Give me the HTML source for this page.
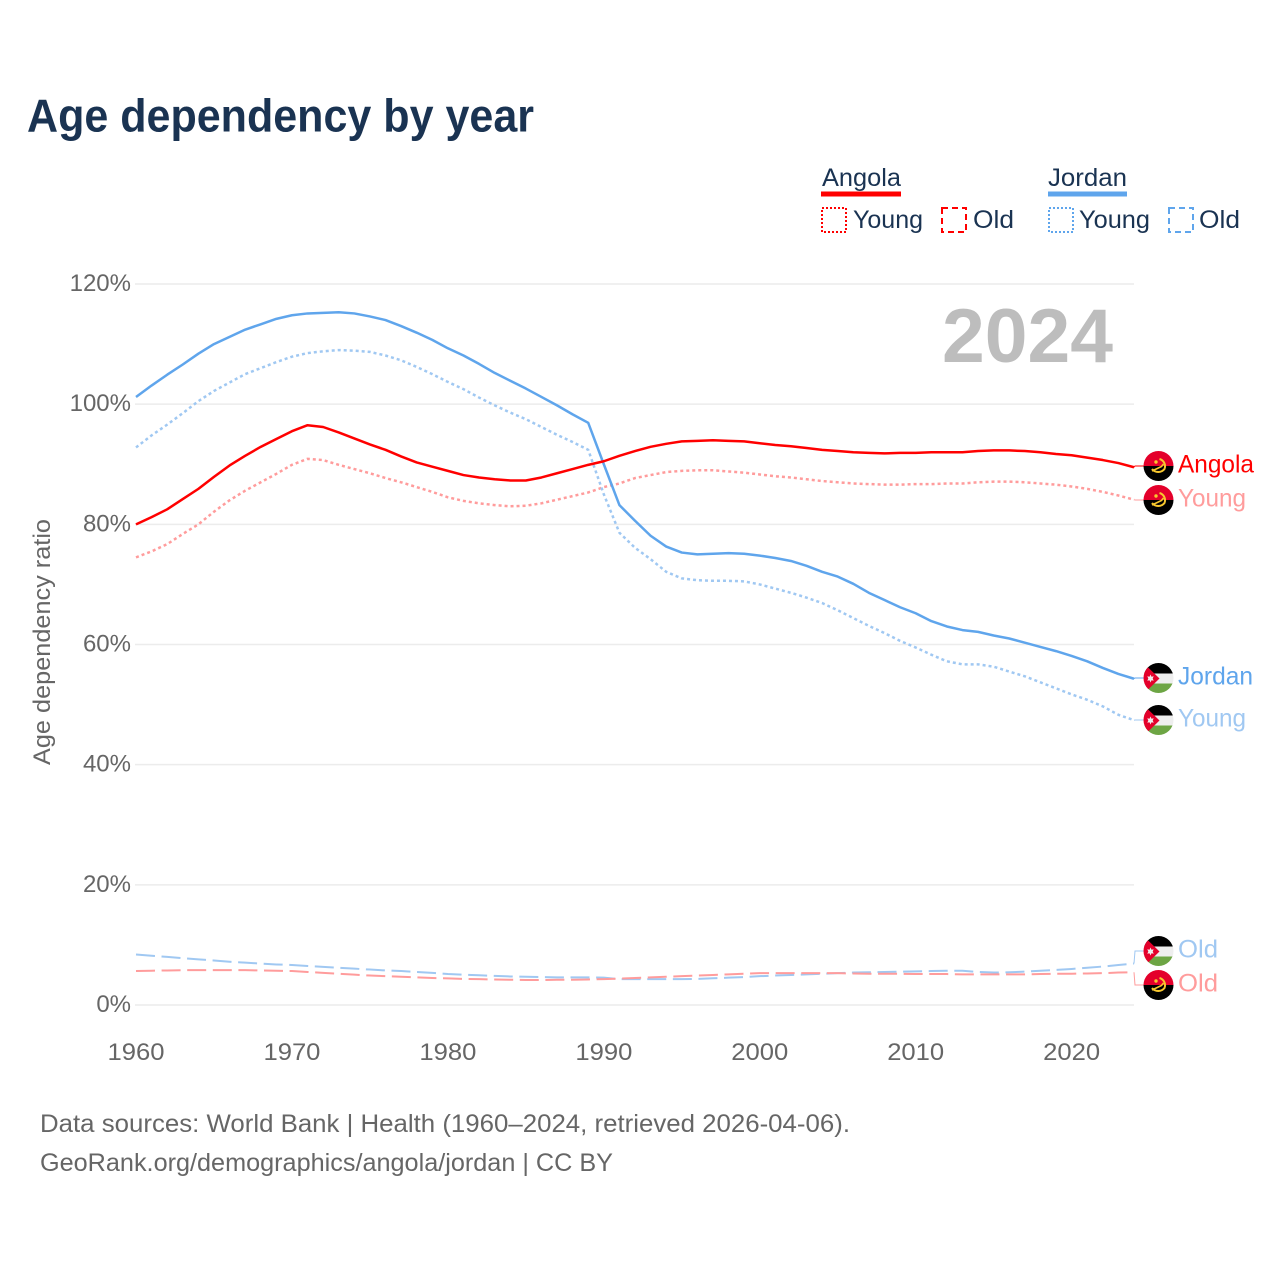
<!DOCTYPE html>
<html lang="en">
<head>
<meta charset="utf-8">
<title>Age dependency by year</title>
<style>
html,body{margin:0;padding:0;background:#fff;width:1280px;height:1280px;overflow:hidden}
svg{display:block}
text{font-family:"Liberation Sans",sans-serif}
</style>
</head>
<body>
<svg id="chart" xmlns="http://www.w3.org/2000/svg" width="1280" height="1280" viewBox="0 0 1280 1280">
  <defs>
    <clipPath id="flag-clip"><circle cx="0" cy="0" r="15"/></clipPath>
    <g id="flag-angola">
      <g clip-path="url(#flag-clip)">
        <rect x="-15" y="-15" width="30" height="15" fill="#e4002b"/>
        <rect x="-15" y="0" width="30" height="15" fill="#000"/>
        <path d="M1,-7 A7.500,7.500 0 0 1 6,3 A8,8 0 0 1 -6.500,3" fill="none" stroke="#f7c72e" stroke-width="2"/>
        <path d="M-6.500,5 L3,0.500 L5,-2" fill="none" stroke="#f7c72e" stroke-width="1.600"/>
        <circle cx="-2.500" cy="-4" r="1.700" fill="#f7c72e"/>
      </g>
    </g>
    <g id="flag-jordan">
      <g clip-path="url(#flag-clip)">
        <rect x="-15" y="-15" width="30" height="10.500" fill="#000"/>
        <rect x="-15" y="-4.500" width="30" height="10" fill="#eee"/>
        <rect x="-15" y="5.500" width="30" height="9.500" fill="#6da544"/>
        <path d="M-15,-15 L1,0.500 L-15,16 Z" fill="#e4002b"/>
        <polygon points="-8,-3.500 -7,-1.200 -4.800,-1.800 -5.800,0.500 -4.800,2.800 -7,2.200 -8,4.500 -9,2.200 -11.200,2.800 -10.200,0.500 -11.200,-1.800 -9,-1.200" fill="#eee"/>
      </g>
    </g>
  </defs>

  <text x="27" y="131.500" font-size="46" font-weight="700" fill="#1a3352" textLength="507" lengthAdjust="spacingAndGlyphs">Age dependency by year</text>

  <g font-size="25" fill="#1a3352">
    <text x="822" y="186" textLength="79" lengthAdjust="spacingAndGlyphs">Angola</text>
    <rect x="821" y="191.500" width="80" height="5" fill="#ff0000"/>
    <rect x="822" y="208" width="24" height="24" fill="none" stroke="#ff0000" stroke-width="2" stroke-dasharray="2 2"/>
    <text x="853" y="228" textLength="70" lengthAdjust="spacingAndGlyphs">Young</text>
    <rect x="942" y="208" width="24" height="24" fill="none" stroke="#ff0000" stroke-width="2" stroke-dasharray="6 4"/>
    <text x="973" y="228" textLength="41" lengthAdjust="spacingAndGlyphs">Old</text>
    <text x="1048" y="186" textLength="79" lengthAdjust="spacingAndGlyphs">Jordan</text>
    <rect x="1048" y="191.500" width="79" height="5" fill="#5fa5ec"/>
    <rect x="1049" y="208" width="24" height="24" fill="none" stroke="#5fa5ec" stroke-width="2" stroke-dasharray="2 2"/>
    <text x="1079" y="228" textLength="71" lengthAdjust="spacingAndGlyphs">Young</text>
    <rect x="1169" y="208" width="24" height="24" fill="none" stroke="#5fa5ec" stroke-width="2" stroke-dasharray="6 4"/>
    <text x="1199" y="228" textLength="41" lengthAdjust="spacingAndGlyphs">Old</text>
  </g>

  <g id="grid"></g>
  <text x="942" y="362" font-size="76" font-weight="700" fill="#bdbdbd" textLength="171" lengthAdjust="spacingAndGlyphs">2024</text>
  <g id="series"></g>
  <g id="end-labels"></g>

  <text transform="translate(50,642) rotate(-90)" text-anchor="middle" font-size="24" fill="#666" textLength="246" lengthAdjust="spacingAndGlyphs">Age dependency ratio</text>

  <text x="40" y="1132" font-size="25" fill="#666" textLength="810" lengthAdjust="spacingAndGlyphs">Data sources: World Bank | Health (1960–2024, retrieved 2026-04-06).</text>
  <text x="40" y="1171" font-size="25" fill="#666" textLength="573" lengthAdjust="spacingAndGlyphs">GeoRank.org/demographics/angola/jordan | CC BY</text>
</svg>

<script>
const startYear = 1960;
const endYear = 2024;
const yTicks = [0, 20, 40, 60, 80, 100, 120];
const xTicks = [1960, 1970, 1980, 1990, 2000, 2010, 2020];

const angolaTotal = [80.0,81.2,82.5,84.2,85.9,87.9,89.8,91.4,92.9,94.2,95.5,96.5,96.2,95.3,94.3,93.3,92.4,91.3,90.3,89.6,88.9,88.2,87.8,87.5,87.3,87.3,87.8,88.5,89.2,89.9,90.5,91.4,92.2,92.9,93.4,93.8,93.9,94.0,93.9,93.8,93.5,93.2,93.0,92.7,92.4,92.2,92.0,91.9,91.8,91.9,91.9,92.0,92.0,92.0,92.2,92.3,92.3,92.2,92.0,91.7,91.5,91.1,90.7,90.2,89.5];
const angolaYoung = [74.5,75.5,76.7,78.4,80.0,82.1,84.0,85.6,87.0,88.4,89.9,90.9,90.7,89.9,89.2,88.5,87.7,87.0,86.2,85.4,84.5,83.9,83.5,83.2,83.0,83.1,83.5,84.1,84.7,85.3,86.2,86.8,87.7,88.2,88.7,88.9,89.0,89.0,88.8,88.6,88.3,88.0,87.8,87.5,87.2,87.0,86.8,86.7,86.6,86.6,86.7,86.7,86.8,86.8,87.0,87.1,87.1,87.0,86.8,86.6,86.3,85.9,85.4,84.8,84.1];
const angolaOld = [5.65,5.7,5.75,5.8,5.8,5.8,5.8,5.8,5.75,5.7,5.65,5.5,5.35,5.2,5.05,4.9,4.8,4.7,4.6,4.5,4.43,4.35,4.3,4.25,4.2,4.16,4.16,4.2,4.2,4.25,4.3,4.4,4.5,4.6,4.7,4.8,4.9,5.0,5.1,5.2,5.3,5.3,5.3,5.3,5.3,5.3,5.25,5.2,5.2,5.2,5.16,5.15,5.15,5.1,5.1,5.1,5.1,5.1,5.15,5.2,5.2,5.25,5.3,5.4,5.45];
const jordanTotal = [101.2,103.1,104.9,106.6,108.4,110.0,111.2,112.4,113.3,114.2,114.8,115.1,115.2,115.3,115.1,114.6,114.0,113.0,111.9,110.7,109.3,108.1,106.7,105.2,103.9,102.6,101.2,99.8,98.3,96.9,90.0,83.2,80.6,78.1,76.3,75.3,75.0,75.1,75.2,75.1,74.8,74.4,73.9,73.1,72.1,71.3,70.1,68.6,67.4,66.2,65.2,63.9,63.0,62.4,62.1,61.5,61.0,60.3,59.6,58.9,58.1,57.2,56.1,55.1,54.3];
const jordanYoung = [92.8,94.8,96.6,98.5,100.5,102.2,103.6,105.0,106.0,107.0,107.9,108.5,108.8,109.0,108.9,108.7,108.1,107.3,106.2,105.0,103.7,102.5,101.1,99.8,98.6,97.5,96.2,94.9,93.7,92.4,85.0,78.6,76.1,74.2,72.1,71.0,70.7,70.6,70.6,70.5,70.0,69.3,68.6,67.8,66.9,65.7,64.4,63.1,61.9,60.6,59.5,58.3,57.2,56.7,56.7,56.3,55.5,54.7,53.7,52.7,51.7,50.8,49.7,48.3,47.4];
const jordanOld = [8.4,8.2,8.0,7.8,7.6,7.4,7.2,7.05,6.9,6.75,6.65,6.5,6.35,6.2,6.05,5.9,5.75,5.65,5.5,5.35,5.16,5.05,4.95,4.85,4.75,4.7,4.65,4.6,4.6,4.6,4.55,4.3,4.3,4.3,4.3,4.3,4.35,4.45,4.55,4.65,4.8,4.9,5.0,5.1,5.2,5.3,5.4,5.45,5.5,5.55,5.6,5.65,5.7,5.7,5.5,5.4,5.45,5.55,5.7,5.85,6.0,6.2,6.4,6.65,6.9];

const plot = { left: 136, right: 1134, zero: 1005, top: 284 };
function xScale(year) { return plot.left + (year - startYear) * (plot.right - plot.left) / (endYear - startYear); }
function yScale(value) { return plot.zero - value * (plot.zero - plot.top) / 120; }

const NS = 'http://www.w3.org/2000/svg';
const gridGroup = document.getElementById('grid');
const seriesGroup = document.getElementById('series');
const labelGroup = document.getElementById('end-labels');

yTicks.forEach(function (tick) {
  const line = document.createElementNS(NS, 'line');
  
  
  line.setAttribute('x1', plot.left - 1);
  line.setAttribute('x2', plot.right);
  line.setAttribute('y1', yScale(tick));
  line.setAttribute('y2', yScale(tick));
  line.setAttribute('stroke', '#ececec');
  line.setAttribute('stroke-width', '1.5');
  gridGroup.appendChild(line);
  const label = document.createElementNS(NS, 'text');
  
  
  label.setAttribute('x', 131);
  label.setAttribute('y', yScale(tick) + 7);
  label.setAttribute('text-anchor', 'end');
  label.setAttribute('font-size', '24');
  label.setAttribute('fill', '#666');
  label.textContent = tick + '%';
  gridGroup.appendChild(label);
});

xTicks.forEach(function (tick) {
  const label = document.createElementNS(NS, 'text');
  
  
  label.setAttribute('x', xScale(tick));
  label.setAttribute('y', 1060);
  label.setAttribute('text-anchor', 'middle');
  label.setAttribute('font-size', '24');
  label.setAttribute('fill', '#666');
  label.setAttribute('textLength', '57');
  label.setAttribute('lengthAdjust', 'spacingAndGlyphs');
  label.textContent = tick;
  gridGroup.appendChild(label);
});

function drawLine(values, name, color, width, dash) {
  const d = values.map(function (v, i) {
    return (i ? 'L' : 'M') + xScale(startYear + i).toFixed(2) + ',' + yScale(v).toFixed(2);
  }).join(' ');
  const path = document.createElementNS(NS, 'path');
  
  
  path.setAttribute('d', d);
  path.setAttribute('fill', 'none');
  path.setAttribute('stroke', color);
  path.setAttribute('stroke-width', width);
  path.setAttribute('stroke-linejoin', 'round');
  if (dash) path.setAttribute('stroke-dasharray', dash);
  seriesGroup.appendChild(path);
}

function drawEnd(values, name, color, text, textWidth, labelY, flag) {
  const endY = yScale(values[values.length - 1]);
  const conn = document.createElementNS(NS, 'path');
  
  
  conn.setAttribute('d', 'M' + plot.right + ',' + endY.toFixed(2) + ' L' + (plot.right + 1) + ',' + labelY + ' L1144,' + labelY);
  conn.setAttribute('fill', 'none');
  conn.setAttribute('stroke', color);
  conn.setAttribute('stroke-width', '1');
  labelGroup.appendChild(conn);
  const use = document.createElementNS(NS, 'use');
  
  
  use.setAttribute('href', '#' + flag);
  use.setAttribute('x', 1158.5);
  use.setAttribute('y', labelY);
  labelGroup.appendChild(use);
  const label = document.createElementNS(NS, 'text');
  
  
  label.setAttribute('x', 1178);
  label.setAttribute('y', labelY + 6.5);
  label.setAttribute('font-size', '25');
  label.setAttribute('fill', color);
  label.setAttribute('textLength', textWidth);
  label.setAttribute('lengthAdjust', 'spacingAndGlyphs');
  label.textContent = text;
  labelGroup.appendChild(label);
}

const RED = '#ff0000', BLUE = '#5fa5ec', RED_L = '#ff9c9c', BLUE_L = '#a0c8f2';
drawLine(jordanOld, 'line-jordan-old', BLUE_L, 2, '19 6.6');
drawLine(angolaOld, 'line-angola-old', RED_L, 2, '19 6.6');
drawLine(angolaYoung, 'line-angola-young', RED_L, 2.5, '3 3');
drawLine(jordanYoung, 'line-jordan-young', BLUE_L, 2.5, '3 3');
drawLine(jordanTotal, 'line-jordan-total', BLUE, 2.5);
drawLine(angolaTotal, 'line-angola-total', RED, 2.5);

drawEnd(angolaTotal, 'end-angola-total', RED, 'Angola', 76, 466, 'flag-angola');
drawEnd(angolaYoung, 'end-angola-young', RED_L, 'Young', 68, 500, 'flag-angola');
drawEnd(jordanTotal, 'end-jordan-total', BLUE, 'Jordan', 75, 678, 'flag-jordan');
drawEnd(jordanYoung, 'end-jordan-young', BLUE_L, 'Young', 68, 720, 'flag-jordan');
drawEnd(jordanOld, 'end-jordan-old', BLUE_L, 'Old', 40, 951, 'flag-jordan');
drawEnd(angolaOld, 'end-angola-old', RED_L, 'Old', 40, 985, 'flag-angola');
</script>
</body>
</html>
